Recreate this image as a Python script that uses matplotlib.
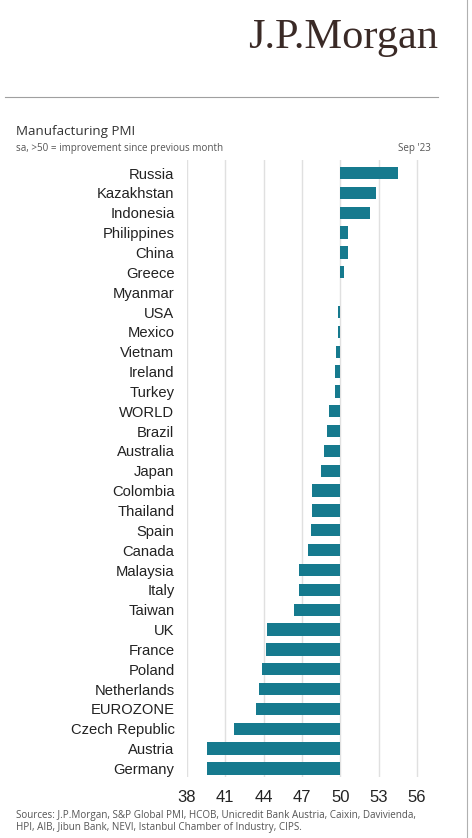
import matplotlib
matplotlib.use("Agg")
import matplotlib.pyplot as plt
from matplotlib.lines import Line2D

countries = ["Russia", "Kazakhstan", "Indonesia", "Philippines", "China", "Greece",
             "Myanmar", "USA", "Mexico", "Vietnam", "Ireland", "Turkey", "WORLD",
             "Brazil", "Australia", "Japan", "Colombia", "Thailand", "Spain", "Canada",
             "Malaysia", "Italy", "Taiwan", "UK", "France", "Poland", "Netherlands",
             "EUROZONE", "Czech Republic", "Austria", "Germany"]
pmi = [54.5, 52.8, 52.3, 50.6, 50.6, 50.3,
       50.0, 49.8, 49.8, 49.7, 49.6, 49.6, 49.1,
       49.0, 48.7, 48.5, 47.8, 47.8, 47.7, 47.5,
       46.8, 46.8, 46.4, 44.3, 44.2, 43.9, 43.6,
       43.4, 41.7, 39.6, 39.6]
xticks = [38, 41, 44, 47, 50, 53, 56]
baseline = 50

W, H = 472, 838
fig = plt.figure(figsize=(W / 100, H / 100), dpi=100)
fig.patch.set_facecolor("white")

# axes geometry in pixels
left_px, top_px, bottom_px = 187, 160, 777
px_per_unit = 12.77
xmin, xmax = 38, 57.2
ax_w = (xmax - xmin) * px_per_unit
ax = fig.add_axes([left_px / W, (H - bottom_px) / H, ax_w / W, (bottom_px - top_px) / H])

ypos = list(range(len(countries)))
widths = [v - baseline for v in pmi]
ax.barh(ypos, widths, left=baseline, height=0.62, color="#167a8e", zorder=3)

ax.set_xlim(xmin, xmax)
ax.set_ylim(len(countries) - 1 + 0.43, -0.66)
ax.set_xticks(xticks)
ax.set_xticklabels([str(t) for t in xticks], fontsize=12, color="#222222",
                   family=["Liberation Sans", "DejaVu Sans"])
ax.set_yticks(ypos)
ax.set_yticklabels(countries, fontsize=10.6, color="#222222",
                   family=["Liberation Sans", "DejaVu Sans"])
ax.tick_params(axis="both", length=0)
ax.tick_params(axis="x", pad=9)
ax.tick_params(axis="y", pad=9)
ax.grid(axis="x", color="#e0e0e0", linewidth=1.0, zorder=0)
ax.grid(axis="y", visible=False)
for s in ax.spines.values():
    s.set_visible(False)
ax.set_facecolor("none")

# header
fig.text(438 / W, 1 - 38 / H, "J.P.Morgan", ha="right", va="center",
         fontsize=30.5, family=["Liberation Serif", "DejaVu Serif"], color="#3a2a26")
fig.add_artist(Line2D([5 / W, 438 / W], [1 - 97 / H, 1 - 97 / H],
                      color="#a0a0a0", linewidth=0.8, transform=fig.transFigure))
fig.add_artist(Line2D([467 / W, 467 / W], [0, 1],
                      color="#b0b0b0", linewidth=0.8, transform=fig.transFigure))

fig.text(16 / W, 1 - 131 / H, "Manufacturing PMI", ha="left", va="center",
         fontsize=9.6, family=["Open Sans", "DejaVu Sans"], color="#333333")
fig.text(16 / W, 1 - 148 / H, "sa, >50 = improvement since previous month", ha="left",
         va="center", fontsize=7.1, family=["Open Sans", "DejaVu Sans"], color="#555555")
fig.text(431 / W, 1 - 148 / H, "Sep '23", ha="right", va="center",
         fontsize=7.1, family=["Open Sans", "DejaVu Sans"], color="#555555")

fig.text(16 / W, 1 - 815 / H,
         "Sources: J.P.Morgan, S&P Global PMI, HCOB, Unicredit Bank Austria, Caixin, Davivienda,",
         ha="left", va="center", fontsize=7.1, family=["Open Sans", "DejaVu Sans"], color="#555555")
fig.text(16 / W, 1 - 827 / H,
         "HPI, AIB, Jibun Bank, NEVI, Istanbul Chamber of Industry, CIPS.",
         ha="left", va="center", fontsize=7.1, family=["Open Sans", "DejaVu Sans"], color="#555555")

fig.savefig("out.png", dpi=100, facecolor="white")
